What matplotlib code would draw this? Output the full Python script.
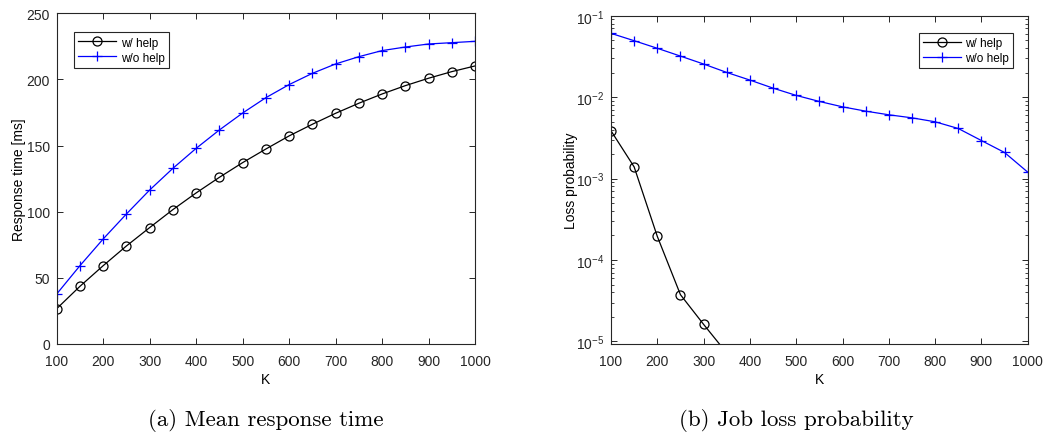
import matplotlib
matplotlib.use("Agg")
import matplotlib.pyplot as plt
import matplotlib.ticker as mticker
import numpy as np

plt.rcParams.update({
    "font.family": "Liberation Sans",
    "font.size": 10,
    "axes.linewidth": 0.8,
    "axes.edgecolor": "#262626",
    "xtick.color": "#262626",
    "ytick.color": "#262626",
    "xtick.direction": "in",
    "ytick.direction": "in",
    "xtick.top": True,
    "ytick.right": True,
    "mathtext.fontset": "custom",
    "mathtext.rm": "Liberation Sans",
    "mathtext.it": "Liberation Sans",
})

# ============================================================
# DATA
# ============================================================
K = [100, 150, 200, 250, 300, 350, 400, 450, 500, 550,
     600, 650, 700, 750, 800, 850, 900, 950, 1000]

resp_help = [26.7, 43.6, 59.2, 74.1, 88.0, 101.6, 114.2, 126.0, 137.1, 147.4,
             157.3, 166.1, 174.4, 182.0, 189.0, 195.3, 200.9, 205.9, 210.2]
resp_nohelp = [37.8, 59.2, 79.4, 98.3, 116.4, 132.8, 147.9, 161.8, 174.6, 186.2,
               196.1, 204.6, 211.7, 217.2, 221.8, 224.5, 226.8, 227.8, 228.8]

K_loss_help = [100, 150, 200, 250, 300, 350]
loss_help = [3.86e-3, 1.39e-3, 1.95e-4, 3.75e-5, 1.62e-5, 7.2e-6]
loss_nohelp = [0.0607, 0.0493, 0.0398, 0.0319, 0.0255, 0.0201, 0.0162, 0.0129,
               0.0105, 0.00885, 0.0076, 0.00673, 0.00607, 0.00557, 0.00498,
               0.00412, 0.00293, 0.00209, 0.0012]

LABELS = ["w/ help", "w/o help"]
CAPTIONS = ["(a) Mean response time", "(b) Job loss probability"]

W, H = 1043, 435
fig = plt.figure(figsize=(W / 100, H / 100), dpi=100)
fig.patch.set_facecolor("white")

ax1 = fig.add_axes([56.7 / W, 1 - 345 / H, (475 - 56.7) / W, (345 - 14.3) / H])
ax2 = fig.add_axes([611 / W, 1 - 345 / H, (1027.7 - 611) / W, (345 - 16.7) / H])

line_kw = dict(linewidth=0.9)

# ============================================================
# (a) MEAN RESPONSE TIME
# ============================================================
ax1.plot(K, resp_help, color="black", marker="o", markersize=6.5,
         markerfacecolor="none", markeredgewidth=0.9, label=LABELS[0], **line_kw)
ax1.plot(K, resp_nohelp, color="blue", marker="+", markersize=7,
         markeredgewidth=0.9, label=LABELS[1], **line_kw)
ax1.set_xlim(100, 1000)
ax1.set_ylim(0, 250)
ax1.set_xticks(range(100, 1001, 100))
ax1.set_yticks(range(0, 251, 50))
ax1.set_xlabel("K", labelpad=3)
ax1.set_ylabel("Response time [ms]", labelpad=0.5)
leg1 = ax1.legend(loc="upper left", bbox_to_anchor=(0.027, 0.96), fontsize=8.5,
                  fancybox=False, edgecolor="#262626", framealpha=1,
                  handlelength=3.2, borderpad=0.35, labelspacing=0.25,
                  handletextpad=0.4)
leg1.get_frame().set_linewidth(0.8)

# ============================================================
# (b) JOB LOSS PROBABILITY
# ============================================================
ax2.plot(K_loss_help, loss_help, color="black", marker="o", markersize=6.5,
         markerfacecolor="none", markeredgewidth=0.9, label=LABELS[0], **line_kw)
ax2.plot(K, loss_nohelp, color="blue", marker="+", markersize=7,
         markeredgewidth=0.9, label=LABELS[1], **line_kw)
ax2.set_yscale("log")
ax2.set_xlim(100, 1000)
ax2.set_ylim(9.3e-6, 1e-1)
ax2.set_xticks(range(100, 1001, 100))
ax2.yaxis.set_major_locator(mticker.LogLocator(base=10, numticks=10))
ax2.yaxis.set_minor_locator(mticker.LogLocator(base=10, subs=np.arange(2, 10), numticks=10))
ax2.yaxis.set_minor_formatter(mticker.NullFormatter())
ax2.set_xlabel("K", labelpad=3)
ax2.set_ylabel("Loss probability", labelpad=-1.5)
leg2 = ax2.legend(loc="upper right", bbox_to_anchor=(0.98, 0.965), fontsize=8.5,
                  fancybox=False, edgecolor="#262626", framealpha=1,
                  handlelength=3.2, borderpad=0.35, labelspacing=0.25,
                  handletextpad=0.4)
leg2.get_frame().set_linewidth(0.8)

for ax in (ax1, ax2):
    ax.tick_params(which="major", length=4, width=0.7)
    ax.tick_params(which="minor", length=2, width=0.6)
    ax.tick_params(axis="x", which="major", pad=7)
    ax.tick_params(axis="y", which="major", pad=5)

fig.text(266 / W, 1 - 421 / H, CAPTIONS[0], ha="center", va="center",
         fontsize=16.5, family="cmr10")
fig.text(796 / W, 1 - 421 / H, CAPTIONS[1], ha="center", va="center",
         fontsize=16.5, family="cmr10")

plt.savefig("out.png", dpi=100)
plt.close()
